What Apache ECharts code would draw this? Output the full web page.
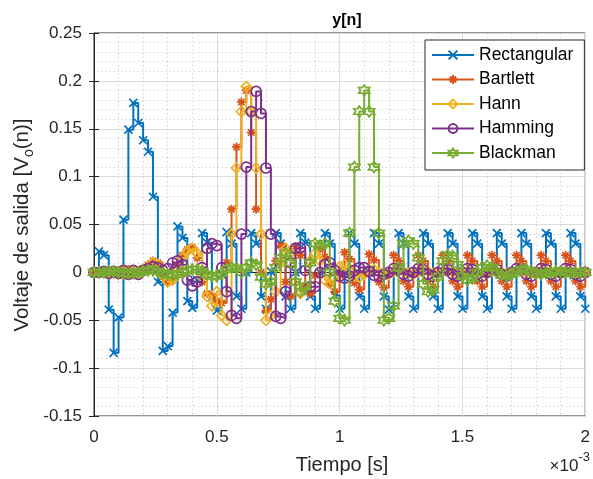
<!DOCTYPE html>
<html>
<head>
<meta charset="utf-8">
<script src="https://cdn.jsdelivr.net/npm/echarts@6/dist/echarts.min.js"></script>
<style>
html, body { margin: 0; padding: 0; background: #ffffff; }
#chart { width: 593px; height: 479px; }
</style>
</head>
<body>
<div id="chart"></div>
<script>
// Sample period of the discrete signals, in milliseconds (axis is scaled by 1e-3)
const Ts = 0.02;
const xTicks = [0, 0.5, 1, 1.5, 2];
const yTicks = [-0.15, -0.1, -0.05, 0, 0.05, 0.1, 0.15, 0.2, 0.25];
const windowNames = ['Rectangular', 'Bartlett', 'Hann', 'Hamming', 'Blackman'];

// Filter output y[n] for each window, n = 0..100
const rectangular = [
  0.000, 0.022, 0.018, -0.039, -0.084, -0.047, 0.055, 0.149, 0.177, 0.156,
  0.138, 0.126, 0.079, -0.010, -0.082, -0.077, -0.042, 0.048, 0.036, -0.030,
  -0.037, -0.008, 0.041, 0.031, -0.026, -0.040, -0.002, 0.042, 0.030, -0.025,
  -0.038, 0.000, 0.041, 0.030, -0.025, -0.038, 0.001, 0.041, 0.030, -0.025,
  -0.038, 0.000, 0.041, 0.031, -0.025, -0.038, 0.000, 0.041, 0.030, -0.024,
  -0.038, 0.000, 0.041, 0.030, -0.025, -0.038, 0.000, 0.041, 0.030, -0.025,
  -0.039, 0.000, 0.041, 0.030, -0.025, -0.038, 0.000, 0.041, 0.030, -0.025,
  -0.038, 0.000, 0.041, 0.030, -0.025, -0.038, -0.001, 0.041, 0.030, -0.025,
  -0.038, 0.000, 0.041, 0.030, -0.025, -0.038, 0.000, 0.041, 0.030, -0.025,
  -0.038, 0.000, 0.041, 0.030, -0.025, -0.038, 0.000, 0.041, 0.030, -0.025,
  -0.038
];
const bartlett = [
  0.000, 0.001, -0.001, 0.002, -0.002, 0.002, -0.003, 0.003, -0.002, 0.002,
  0.004, 0.008, 0.012, 0.010, -0.004, -0.010, -0.008, 0.008, 0.018, 0.024,
  0.026, 0.015, -0.010, -0.022, -0.025, -0.030, -0.032, 0.010, 0.066, 0.131,
  0.178, 0.190, 0.146, 0.066, 0.000, -0.040, -0.028, 0.012, 0.028, -0.010,
  -0.025, 0.027, 0.018, -0.014, -0.022, -0.003, 0.024, 0.016, -0.012, -0.020,
  -0.003, 0.021, 0.014, -0.011, -0.018, -0.002, 0.019, 0.013, -0.010, -0.016,
  -0.002, 0.018, 0.012, -0.009, -0.015, -0.002, 0.018, 0.012, -0.009, -0.015,
  -0.002, 0.018, 0.012, -0.009, -0.015, -0.002, 0.018, 0.012, -0.009, -0.015,
  -0.002, 0.018, 0.012, -0.009, -0.015, -0.002, 0.018, 0.012, -0.009, -0.015,
  -0.002, 0.018, 0.012, -0.009, -0.015, -0.002, 0.018, 0.012, -0.009, -0.015,
  -0.002
];
const hann = [
  0.000, 0.000, 0.001, -0.001, 0.001, -0.002, 0.002, -0.002, 0.002, -0.001,
  0.003, 0.006, 0.010, 0.008, -0.003, -0.010, -0.008, 0.005, 0.015, 0.022,
  0.025, 0.020, -0.005, -0.025, -0.035, -0.020, -0.045, -0.050, 0.040, 0.109,
  0.168, 0.194, 0.168, 0.109, 0.040, -0.050, -0.045, -0.020, 0.010, 0.025,
  0.020, -0.010, -0.022, -0.015, 0.012, 0.020, 0.012, -0.008, -0.012, -0.006,
  0.006, 0.008, 0.004, -0.004, -0.005, -0.002, 0.003, 0.003, 0.000, -0.002,
  -0.002, 0.001, 0.002, 0.001, -0.001, -0.002, 0.000, 0.002, 0.001, -0.001,
  -0.001, 0.001, 0.001, 0.000, -0.001, -0.001, 0.001, 0.001, 0.000, -0.001,
  -0.001, 0.001, 0.001, 0.000, -0.001, -0.001, 0.001, 0.001, 0.000, -0.001,
  -0.001, 0.001, 0.001, 0.000, -0.001, -0.001, 0.001, 0.001, 0.000, -0.001,
  0.000
];
const hamming = [
  0.000, 0.000, 0.001, -0.001, 0.001, -0.001, 0.002, -0.002, 0.002, -0.002,
  0.002, 0.004, 0.006, 0.005, 0.002, 0.004, 0.010, 0.012, 0.008, -0.008,
  -0.014, -0.010, 0.005, 0.025, 0.030, 0.028, 0.005, -0.020, -0.045, -0.048,
  0.040, 0.110, 0.168, 0.189, 0.166, 0.109, 0.040, -0.046, -0.048, -0.020,
  0.010, 0.025, 0.026, 0.002, -0.015, -0.015, 0.000, 0.008, 0.010, 0.002,
  -0.004, -0.006, -0.004, 0.002, 0.005, 0.005, 0.001, -0.003, -0.004, -0.002,
  0.000, 0.004, 0.003, -0.002, -0.004, 0.000, 0.004, 0.003, -0.002, -0.004,
  0.000, 0.004, 0.003, -0.002, -0.004, 0.000, 0.004, 0.003, -0.002, -0.004,
  0.000, 0.004, 0.003, -0.002, -0.004, 0.000, 0.004, 0.003, -0.002, -0.004,
  0.000, 0.004, 0.003, -0.002, -0.004, 0.000, 0.004, 0.003, -0.002, -0.004,
  0.000
];
const blackman = [
  0.000, 0.000, 0.000, 0.001, 0.001, 0.000, -0.001, -0.001, -0.001, 0.000,
  0.001, 0.002, 0.002, 0.001, -0.001, -0.002, -0.003, -0.002, 0.000, 0.002,
  0.003, 0.003, 0.001, -0.002, -0.004, -0.004, -0.001, 0.003, 0.005, 0.004,
  0.000, 0.005, 0.010, 0.008, -0.005, -0.012, -0.010, 0.005, 0.015, 0.020,
  0.010, -0.010, -0.020, -0.015, 0.010, 0.030, 0.028, 0.030, 0.000, -0.030,
  -0.048, -0.050, 0.041, 0.110, 0.168, 0.190, 0.168, 0.110, 0.041, -0.050,
  -0.048, -0.035, 0.005, 0.030, 0.033, 0.030, 0.015, -0.012, -0.020, -0.018,
  -0.005, 0.012, 0.018, 0.017, 0.008, -0.004, -0.008, -0.006, 0.000, 0.005,
  0.007, 0.005, 0.000, -0.003, -0.004, -0.002, 0.001, 0.003, 0.003, 0.001,
  -0.001, -0.002, -0.001, 0.000, 0.001, 0.001, 0.000, -0.001, 0.000, 0.000,
  0.000
];

const colors = ['#0072BD', '#D95319', '#EDB120', '#7E2F8E', '#77AC30'];
const seriesValues = [rectangular, bartlett, hann, hamming, blackman];

// Marker glyphs: x, asterisk, diamond, circle, hexagram
const markers = [
  'path://M0,0L10,10M10,0L0,10',
  'path://M5,0L5,10M0,5L10,5M1.5,1.5L8.5,8.5M8.5,1.5L1.5,8.5',
  'diamond',
  'circle',
  'path://M5,0L6.44,2.5L9.33,2.5L7.89,5L9.33,7.5L6.44,7.5L5,10L3.56,7.5L0.67,7.5L2.11,5L0.67,2.5L3.56,2.5Z'
];
const markerSizes = [8, 9, 10, 10, 11];

const toPairs = arr => arr.map((v, i) => [i * Ts, v]);

const axisColor = '#262626';
const font = '"Liberation Sans", Arial, Helvetica, sans-serif';

const chart = echarts.init(document.getElementById('chart'), null, { renderer: 'canvas' });

const series = windowNames.map((name, k) => ({
  name: name,
  type: 'line',
  step: 'end',
  data: toPairs(seriesValues[k]),
  symbol: markers[k],
  symbolSize: markerSizes[k],
  showSymbol: true,
  showAllSymbol: true,
  color: colors[k],
  lineStyle: { color: colors[k], width: 2 },
  itemStyle: { color: 'rgba(255,255,255,0)', borderColor: colors[k], borderWidth: 1.7 },
  emphasis: { disabled: true },
  animation: false,
  clip: true,
  z: 2 + k
}));

chart.setOption({
  backgroundColor: '#ffffff',
  animation: false,
  title: {
    text: 'y[n]',
    left: 342, top: 8, textAlign: 'center',
    textStyle: { fontFamily: font, fontSize: 16, fontWeight: 'bold', color: '#000' }
  },
  grid: { show: true, borderColor: axisColor, borderWidth: 1, backgroundColor: '#fff',
    left: 94, right: 3, top: 33, bottom: 63 },
  legend: {
    data: windowNames,
    orient: 'vertical',
    left: 425, top: 40,
    itemWidth: 42, itemHeight: 11,
    itemGap: 6.5,
    padding: [6, 11, 8, 6],
    backgroundColor: '#ffffff',
    borderColor: axisColor, borderWidth: 1,
    textStyle: { fontFamily: font, fontSize: 17.5, color: '#000' }
  },
  xAxis: [{
    type: 'value', min: 0, max: 2, interval: 0.5,
    axisLine: { show: true, lineStyle: { color: axisColor } },
    axisTick: { show: true, inside: true, length: 5, lineStyle: { color: axisColor } },
    axisLabel: { color: axisColor, fontFamily: font, fontSize: 17, margin: 13,
      formatter: v => xTicks.includes(+v.toFixed(3)) ? String(+v.toFixed(3)) : '' },
    splitLine: { show: true, lineStyle: { color: '#dcdcdc', width: 1 } },
    minorTick: { show: false, splitNumber: 5 },
    minorSplitLine: { show: true, lineStyle: { color: '#c4c4c4', type: [1, 3], width: 1 } }
  }, {
    type: 'value', min: 0, max: 2, interval: 0.5, position: 'top',
    axisLine: { show: false }, axisLabel: { show: false },
    axisTick: { show: true, inside: true, length: 5, lineStyle: { color: axisColor } },
    splitLine: { show: false }
  }],
  yAxis: [{
    type: 'value', min: -0.15, max: 0.25, interval: 0.05,
    axisLine: { show: true, lineStyle: { color: axisColor } },
    axisTick: { show: true, inside: true, length: 5, lineStyle: { color: axisColor } },
    axisLabel: { color: axisColor, fontFamily: font, fontSize: 17, margin: 12,
      formatter: v => String(+v.toFixed(3)) },
    splitLine: { show: true, lineStyle: { color: '#dcdcdc', width: 1 } },
    minorTick: { show: false, splitNumber: 5 },
    minorSplitLine: { show: true, lineStyle: { color: '#c4c4c4', type: [1, 3], width: 1 } }
  }, {
    type: 'value', min: -0.15, max: 0.25, interval: 0.05, position: 'right',
    axisLine: { show: false }, axisLabel: { show: false },
    axisTick: { show: true, inside: true, length: 5, lineStyle: { color: axisColor } },
    splitLine: { show: false }
  }],
  series: series,
  graphic: [
    {
      type: 'text', x: 342, y: 465,
      style: { text: 'Tiempo [s]', align: 'center', verticalAlign: 'middle',
        fontFamily: font, fontSize: 20, fill: axisColor }
    },
    {
      type: 'text', x: 590, y: 475,
      style: {
        text: '{m|×10}{s|-3}',
        align: 'right', verticalAlign: 'bottom',
        fontFamily: font, fill: axisColor,
        rich: {
          m: { fontSize: 17, fontFamily: font, fill: axisColor, verticalAlign: 'bottom', lineHeight: 24 },
          s: { fontSize: 13, fontFamily: font, fill: axisColor, verticalAlign: 'top', lineHeight: 24 }
        }
      }
    },
    {
      type: 'text', x: 22, y: 225, rotation: Math.PI / 2,
      style: {
        text: '{a|Voltaje de salida [V}{b|o}{a|(n)]}',
        align: 'center', verticalAlign: 'middle',
        fontFamily: font, fill: axisColor,
        rich: {
          a: { fontSize: 20.5, fontFamily: font, fill: axisColor, verticalAlign: 'middle', lineHeight: 28 },
          b: { fontSize: 14, fontFamily: font, fill: axisColor, verticalAlign: 'bottom', lineHeight: 28 }
        }
      }
    }
  ]
});
</script>
</body>
</html>
